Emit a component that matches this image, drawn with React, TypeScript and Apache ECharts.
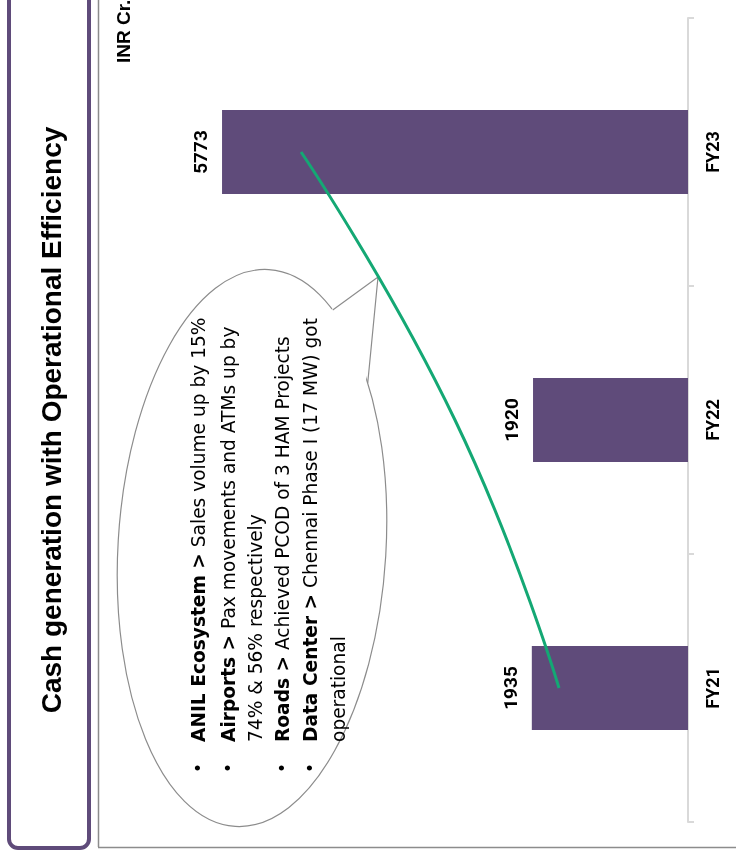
import React, { useEffect, useRef } from "react";
import * as echarts from "echarts";

const categories = ["FY21", "FY22", "FY23"];
const cashValues = [1935, 1920, 5773];
const trendValues = [1598, 2887, 4794];
const titleText = "Cash generation with Operational Efficiency";
const unitText = "INR Cr.";
const bulletLines = [
  { bullet: true, bold: "ANIL Ecosystem >", rest: " Sales volume up by 15%" },
  { bullet: true, bold: "Airports >", rest: " Pax movements and ATMs up by" },
  { bullet: false, bold: "", rest: "74% & 56% respectively" },
  { bullet: true, bold: "Roads >", rest: " Achieved PCOD of 3 HAM Projects" },
  { bullet: true, bold: "Data Center >", rest: " Chennai Phase I (17 MW) got" },
  { bullet: false, bold: "", rest: "operational" },
];

const PURPLE = "#5f4b7a";
const GREEN = "#14a874";

// callout ellipse geometry
const ECX = 252;
const ECY = 548;
const ERX = 134;
const ERY = 279;
const ETILT = 0.06; // clockwise tilt

function ellipsePt(t: number): [number, number] {
  const lx = ERX * Math.cos(t);
  const ly = ERY * Math.sin(t);
  const c = Math.cos(ETILT);
  const s = Math.sin(ETILT);
  return [ECX + lx * c - ly * s, ECY + lx * s + ly * c];
}
function rightPointAtY(y: number): [number, number] {
  let best: [number, number] = ellipsePt(0);
  let bestD = Infinity;
  for (let i = 0; i <= 2000; i++) {
    const t = -Math.PI / 2 + (i / 2000) * (Math.PI / 2);
    const p = ellipsePt(t);
    const d = Math.abs(p[1] - y);
    if (d < bestD) {
      bestD = d;
      best = p;
    }
  }
  return best;
}

export default function App() {
  const ref = useRef<HTMLDivElement>(null);
  useEffect(() => {
    document.body.style.margin = "0";
    const chart = echarts.init(ref.current!, null, { renderer: "svg" });
    const lineXs = [198, 228, 255, 282, 310, 338];
    const textEls: any[] = [];
    bulletLines.forEach((l, i) => {
      const x = lineXs[i];
      if (l.bullet) {
        textEls.push({
          type: "text",
          x,
          y: 768,
          rotation: Math.PI / 2,
          style: {
            text: "•",
            fill: "#000",
            font: "17px 'DejaVu Sans'",
            textAlign: "center",
            textVerticalAlign: "middle",
          },
        });
      }
      textEls.push({
        type: "text",
        x,
        y: 742,
        rotation: Math.PI / 2,
        style: {
          text: (l.bold ? "{b|" + l.bold + "}" : "") + "{r|" + l.rest + "}",
          fill: "#000",
          textAlign: "left",
          textVerticalAlign: "middle",
          rich: {
            b: { fontFamily: "DejaVu Sans", fontSize: 18.6, fontWeight: "bold", fill: "#000" },
            r: { fontFamily: "DejaVu Sans", fontSize: 18.6, fill: "#000" },
          },
        },
      });
    });

    const pA = rightPointAtY(310);
    const pB = rightPointAtY(383);
    const tip: [number, number] = [378, 277];

    const option: any = {
      animation: false,
      grid: { left: 123, right: 48, top: 18, bottom: 36 },
      xAxis: {
        type: "value",
        inverse: true,
        min: 0,
        max: 7000,
        show: false,
        splitLine: { show: false },
      },
      yAxis: {
        type: "category",
        data: categories,
        position: "right",
        axisLine: { show: true, lineStyle: { color: "#d9d9d9", width: 2 } },
        axisTick: { show: true, length: 6, lineStyle: { color: "#d9d9d9", width: 2 } },
        axisLabel: {
          rotate: 90,
          margin: 15,
          align: "center",
          verticalAlign: "top",
          color: "#000",
          fontFamily: "Roboto",
          fontWeight: "bold",
          fontSize: 18,
        },
        splitLine: { show: false },
      },
      series: [
        {
          type: "bar",
          data: cashValues,
          barWidth: 84,
          itemStyle: { color: PURPLE },
          label: {
            show: true,
            position: "left",
            rotate: 90,
            align: "center",
            verticalAlign: "bottom",
            distance: 12,
            color: "#000",
            fontFamily: "Roboto",
            fontWeight: "bold",
            fontSize: 19,
          },
          z: 2,
        },
        {
          type: "line",
          data: trendValues,
          smooth: true,
          symbol: "none",
          lineStyle: { color: GREEN, width: 3 },
          z: 5,
        },
      ],
      graphic: [
        {
          type: "rect",
          shape: { x: 9, y: -20, width: 80, height: 868, r: 9 },
          style: { fill: "none", stroke: PURPLE, lineWidth: 4 },
        },
        {
          type: "text",
          x: 51,
          y: 420,
          rotation: Math.PI / 2,
          style: {
            text: titleText,
            fill: "#000",
            font: "bold 28px 'Liberation Sans'",
            textAlign: "center",
            textVerticalAlign: "middle",
          },
        },
        {
          type: "line",
          shape: { x1: 98.5, y1: 0, x2: 98.5, y2: 847 },
          style: { stroke: "#8c8c8c", lineWidth: 1.5 },
        },
        {
          type: "line",
          shape: { x1: 98, y1: 847.5, x2: 736, y2: 847.5 },
          style: { stroke: "#8c8c8c", lineWidth: 1.5 },
        },
        {
          type: "text",
          x: 123,
          y: 63,
          rotation: Math.PI / 2,
          style: {
            text: unitText,
            fill: "#000",
            font: "bold 19px 'Liberation Sans'",
            textAlign: "left",
            textVerticalAlign: "middle",
          },
        },
        {
          type: "group",
          x: ECX,
          y: ECY,
          rotation: -ETILT,
          children: [
            {
              type: "ellipse",
              shape: { cx: 0, cy: 0, rx: ERX, ry: ERY },
              style: { fill: "#fff", stroke: "#8c8c8c", lineWidth: 1.2 },
            },
          ],
        },
        {
          type: "polygon",
          shape: { points: [[pA[0] - 2, pA[1]], tip, [pB[0] - 2, pB[1]]] },
          style: { fill: "#fff", stroke: "none" },
        },
        {
          type: "polyline",
          shape: { points: [pA, tip, pB] },
          style: { stroke: "#8c8c8c", lineWidth: 1.2, fill: "none" },
        },
        ...textEls,
      ],
    };
    chart.setOption(option);
    return () => chart.dispose();
  }, []);
  return (
    <div
      ref={ref}
      style={{ position: "fixed", left: 0, top: 0, width: 736, height: 858 }}
    />
  );
}
